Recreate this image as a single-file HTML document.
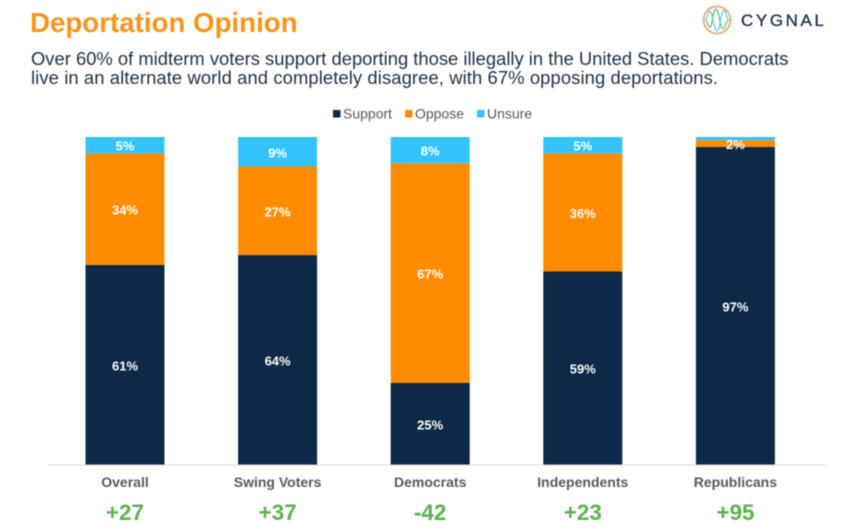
<!DOCTYPE html>
<html><head><meta charset="utf-8">
<style>
html,body{margin:0;padding:0;background:#fff;width:864px;height:531px;overflow:hidden}
svg{display:block;filter:blur(0.4px);font-family:"Liberation Sans",Arial,sans-serif}
</style></head>
<body>
<svg id="chart" width="864" height="531" viewBox="0 0 864 531">
  <text x="30" y="32" font-size="27.7" font-weight="700" fill="#F7941D">Deportation Opinion</text>
  <g>
    <circle cx="717" cy="20" r="13.5" fill="none" stroke="#E5A868" stroke-width="1.7"/>
    <path d="M705 20 C707 20 708 27 710 27 C712 27 713 9 716 9 C719 9 720 29 723 29 C725 29 726 20 729 20" fill="none" stroke="#6DBE6A" stroke-width="1.3"/>
    <path d="M705 20 C707 20 708 11 710 11 C712 11 714 31 717 31 C720 31 721 10 724 10 C726 10 727 20 729 20" fill="none" stroke="#6CCBD8" stroke-width="1.3"/>
    <text x="741" y="26" font-size="17" font-weight="400" letter-spacing="2.6" fill="#1E3348" stroke="#1E3348" stroke-width="0.35">CYGNAL</text>
  </g>
  <text x="31" y="65" font-size="18.4" fill="#1B3148">Over 60% of midterm voters support deporting those illegally in the United States. Democrats</text>
  <text x="31" y="84" font-size="18.4" letter-spacing="0.1" fill="#1B3148">live in an alternate world and completely disagree, with 67% opposing deportations.</text>
  <g id="legend"></g>
  <g id="bars"></g>
  <line x1="48" y1="465" x2="826" y2="465" stroke="#D9D9D9" stroke-width="1"/>
  <g id="xlabels"></g>
</svg>
<script>
var categories = ["Overall", "Swing Voters", "Democrats", "Independents", "Republicans"];
var support = [61, 64, 25, 59, 97];
var oppose = [34, 27, 67, 36, 2];
var unsure = [5, 9, 8, 5, 1];
var netScores = ["+27", "+37", "-42", "+23", "+95"];
var seriesNames = ["Support", "Oppose", "Unsure"];

var NS = "http://www.w3.org/2000/svg";
var plotTop = 137, plotBottom = 465, firstCenter = 125, bandStep = 152.6, barWidth = 79;
var colors = ["#0D2947", "#FF8C00", "#33C4FF"];
var seriesValues = [support, oppose, unsure];

function yScale(v) { return plotBottom - (v / 100) * (plotBottom - plotTop); }
function xCenter(i) { return firstCenter + i * bandStep; }
function make(tag, attrs, parent, text) {
  var el = document.createElementNS(NS, tag);
  for (var k in attrs) el.setAttribute(k, attrs[k]);
  if (text !== undefined) el.textContent = text;
  parent.appendChild(el);
  return el;
}

var barsG = document.getElementById("bars");
var labelsG = document.getElementById("xlabels");
var legendG = document.getElementById("legend");

categories.forEach(function (cat, i) {
  var slug = cat.toLowerCase().replace(/\s+/g, "-");
  var base = 0;
  seriesValues.forEach(function (vals, s) {
    var v = vals[i];
    var y0 = yScale(base), y1 = yScale(base + v);
    var rect = make("rect", {x: xCenter(i) - barWidth / 2, y: y1, width: barWidth, height: y0 - y1, fill: colors[s]}, barsG);
    
    
    base += v;
  });
  base = 0;
  seriesValues.forEach(function (vals, s) {
    var v = vals[i];
    var y0 = yScale(base), y1 = yScale(base + v);
    base += v;
    if (v < 2) return;
    var offset = v > 10 ? 1.5 : 1.5;
    var label = make("text", {x: xCenter(i), y: (y0 + y1) / 2 + offset + 4, "font-size": 13, "font-weight": 700, fill: "#fff", "text-anchor": "middle"}, barsG, v + "%");
    
    
  });
  var catText = make("text", {x: xCenter(i), y: 487, "font-size": 14, "font-weight": 700, fill: "#595959", "text-anchor": "middle"}, labelsG, cat);
  
  
  var net = make("text", {x: xCenter(i), y: 520, "font-size": 22.5, "font-weight": 700, fill: "#5DB14E", "text-anchor": "middle"}, labelsG, netScores[i]);
  
  
});

var legendX = [333, 405, 477];
seriesNames.forEach(function (name, s) {
  var swatch = make("rect", {x: legendX[s], y: 110, width: 7.5, height: 7.5, fill: colors[s]}, legendG);
  
  
  var txt = make("text", {x: legendX[s] + 10, y: 118.5, "font-size": 14, fill: "#595959"}, legendG, name);
  
  
});
</script>
</body></html>
